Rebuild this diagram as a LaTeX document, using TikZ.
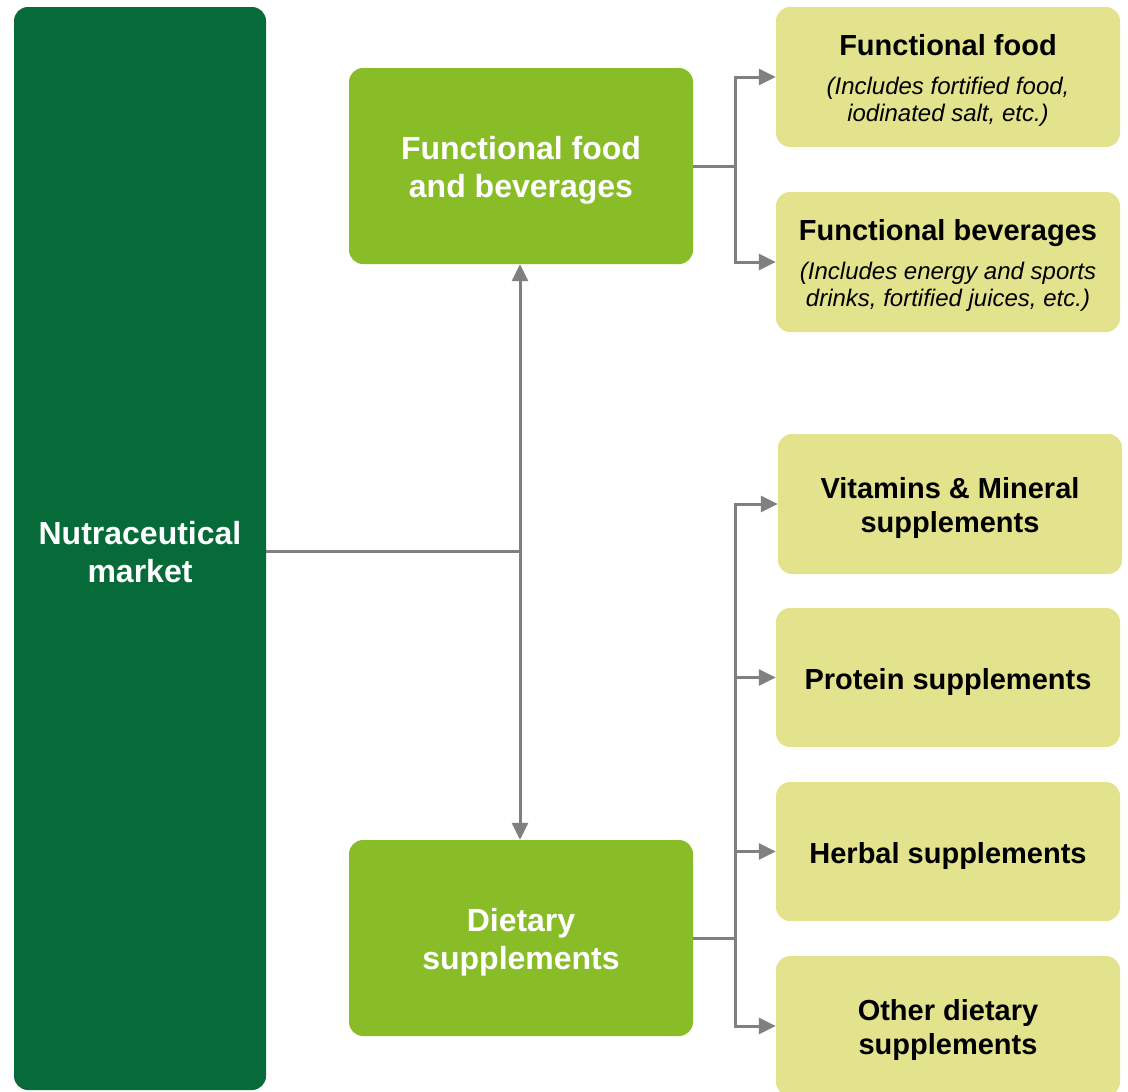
\documentclass[tikz,border=0pt]{standalone}
\usepackage{fontspec}
\setmainfont{Liberation Sans}
\usetikzlibrary{arrows.meta}
\definecolor{darkg}{HTML}{066B38}
\definecolor{midg}{HTML}{89BD27}
\definecolor{lightg}{HTML}{E3E38D}
\definecolor{conn}{HTML}{808080}
\tikzset{
  bigbox/.style={fill=#1, rounded corners=14pt, inner sep=0pt},
  bigtext/.style={align=center, text=white, inner sep=0pt, font=\fontsize{32}{38}\selectfont\bfseries},
  leaf/.style={fill=lightg, rounded corners=14pt, inner sep=0pt, minimum width=344pt},
  leaftext/.style={align=center, text=black, inner sep=0pt, font=\fontsize{29}{34}\selectfont\bfseries},
  sub/.style={align=center, inner sep=0pt, font=\fontsize{24}{27}\selectfont\itshape},
  conline/.style={draw=conn, line width=3pt},
  arr/.style={conline, -{Triangle[length=17pt,width=16pt]}},
  darr/.style={conline, {Triangle[length=17pt,width=16pt]}-{Triangle[length=17pt,width=16pt]}}
}
\begin{document}
\begin{tikzpicture}[x=1pt,y=-1pt]
\useasboundingbox[fill=white] (0,0) rectangle (1128,1092);
% main boxes
\node[bigbox=darkg, minimum width=252pt, minimum height=1083pt] (nm) at (140,548.5) {};
\node[bigtext] (nmt) at (140,552.5) {Nutraceutical\\market};
\node[bigbox=midg, minimum width=344pt, minimum height=196pt] (ffb) at (521,166) {};
\node[bigtext] (ffbt) at (521,170) {Functional food\\and beverages};
\node[bigbox=midg, minimum width=344pt, minimum height=196pt] (ds) at (521,938) {};
\node[bigtext] (dst) at (521,942) {Dietary\\supplements};
% leaves
\node[leaf, minimum height=140pt] (ff) at (948,77) {};
\node[leaftext] (fft) at (948,45) {Functional food};
\node[sub] (ffs) at (948,102) {(Includes fortified food,\\iodinated salt, etc.)};
\node[leaf, minimum height=140pt] (fb) at (948,262) {};
\node[leaftext] (fbt) at (948,233) {Functional beverages};
\node[sub] (fbs) at (948,287) {(Includes energy and sports\\drinks, fortified juices, etc.)};
\node[leaf, minimum height=140pt] (vm) at (950,504) {};
\node[leaftext] (vmt) at (950,508) {Vitamins \& Mineral\\supplements};
\node[leaf, minimum height=139pt] (ps) at (948,677.5) {};
\node[leaftext] (pst) at (948,681.5) {Protein supplements};
\node[leaf, minimum height=139pt] (hs) at (948,851.5) {};
\node[leaftext] (hst) at (948,855.5) {Herbal supplements};
\node[leaf, minimum height=140pt] (od) at (948,1026) {};
\node[leaftext] (odt) at (948,1030) {Other dietary\\supplements};
% connectors
\coordinate (j) at (520,551);
\coordinate (b1) at (735,0);
\draw[conline] (j -| nm.east) -- (j);
\draw[darr] (ffb.south -| j) -- (ds.north -| j);
\draw[arr] (ffb.east) -- (ffb.east -| b1) |- (ff.west);
\draw[arr] (ffb.east) -- (ffb.east -| b1) |- (fb.west);
\draw[arr] (ds.east) -- (ds.east -| b1) |- (vm.west);
\draw[arr] (ds.east) -- (ds.east -| b1) |- (ps.west);
\draw[arr] (ds.east) -- (ds.east -| b1) |- (hs.west);
\draw[arr] (ds.east) -- (ds.east -| b1) |- (od.west);
\end{tikzpicture}
\end{document}
